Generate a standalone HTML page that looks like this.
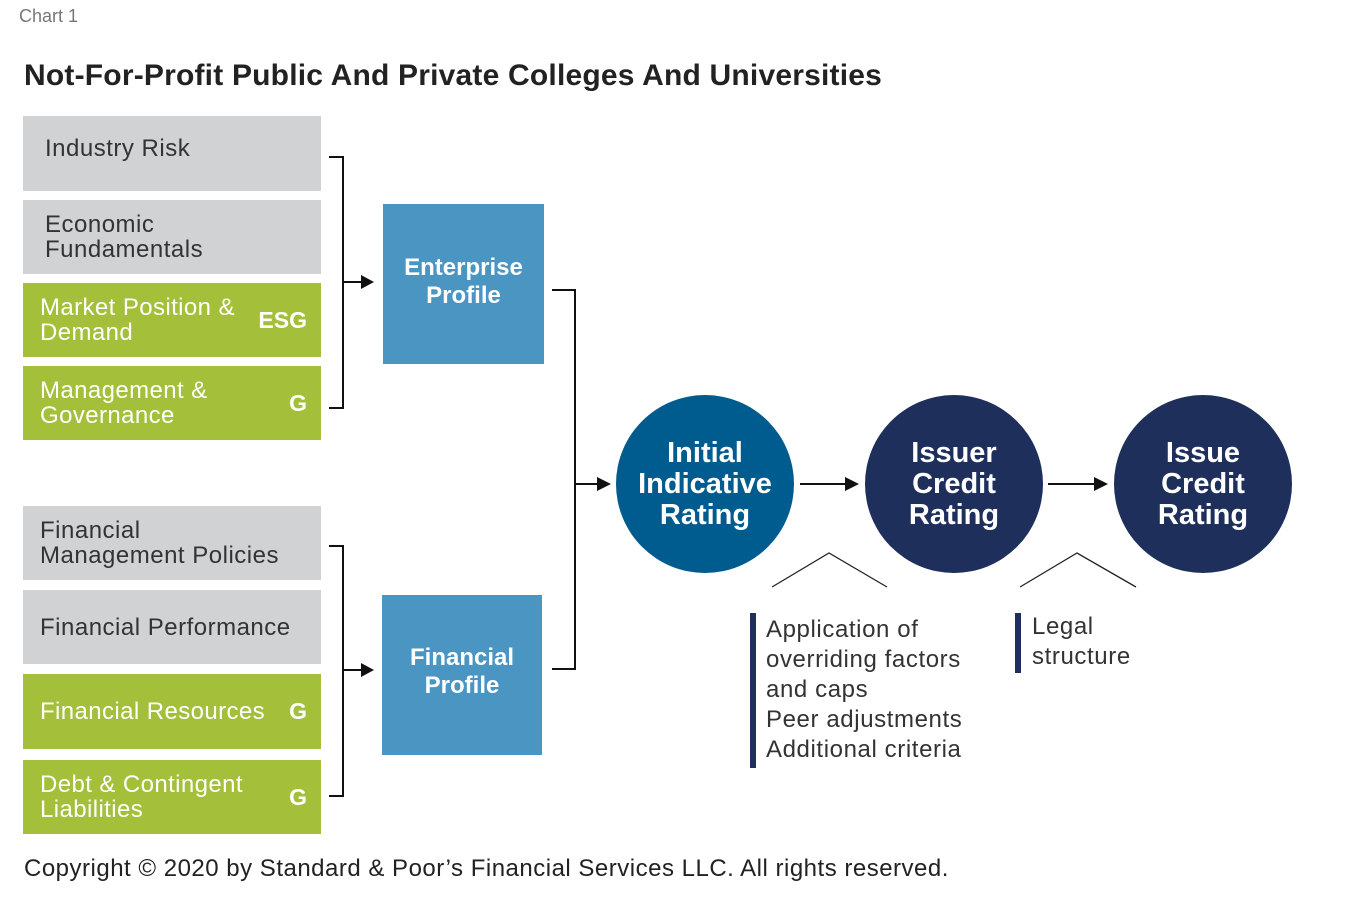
<!DOCTYPE html>
<html><head><style>
body{margin:0;width:1349px;height:897px;background:#fff;position:relative;font-family:"Liberation Sans",sans-serif;overflow:hidden}
.a{position:absolute}
.g{background:#d1d2d4;color:#333;font-size:24px;line-height:25px;letter-spacing:0.5px}
.v{background:#a4bf3a;color:#fff;font-size:24px;line-height:25px;letter-spacing:0.4px}
.bx{position:absolute;left:23px;width:298px;box-sizing:border-box;padding-left:17px;display:flex;align-items:center}
.tag{position:absolute;right:14px;font-weight:bold;font-size:23px;letter-spacing:0}
.blue{background:#4b95c2;color:#fff;font-weight:bold;font-size:24px;line-height:28px;display:flex;align-items:center;justify-content:center;text-align:center;box-sizing:border-box}
.c{border-radius:50%;color:#fff;font-weight:bold;font-size:29px;line-height:31px;display:flex;align-items:center;justify-content:center;text-align:center}
.t{font-size:24px;line-height:30px;color:#333;letter-spacing:0.6px}
</style></head><body>
<div class="a" style="left:19px;top:6px;font-size:18px;color:#777">Chart 1</div>
<div class="a" style="left:24px;top:59px;font-size:30px;font-weight:bold;color:#222;letter-spacing:0.2px">Not-For-Profit Public And Private Colleges And Universities</div>

<div class="bx g" style="top:116px;height:75px;align-items:flex-start;padding-top:20px;padding-left:22px">Industry Risk</div>
<div class="bx g" style="top:200px;height:74px;padding-left:22px">Economic<br>Fundamentals</div>
<div class="bx v" style="top:283px;height:74px">Market Position &amp;<br>Demand<span class="tag">ESG</span></div>
<div class="bx v" style="top:366px;height:74px">Management &amp;<br>Governance<span class="tag">G</span></div>

<div class="bx g" style="top:506px;height:74px">Financial<br>Management Policies</div>
<div class="bx g" style="top:590px;height:74px">Financial Performance</div>
<div class="bx v" style="top:674px;height:75px">Financial Resources<span class="tag">G</span></div>
<div class="bx v" style="top:760px;height:74px">Debt &amp; Contingent<br>Liabilities<span class="tag">G</span></div>

<div class="a blue" style="left:383px;top:204px;width:161px;height:160px;padding-bottom:4px">Enterprise<br>Profile</div>
<div class="a blue" style="left:382px;top:595px;width:160px;height:160px;padding-bottom:6px">Financial<br>Profile</div>

<div class="a c" style="left:616px;top:395px;width:178px;height:178px;background:#005b8e">Initial<br>Indicative<br>Rating</div>
<div class="a c" style="left:865px;top:395px;width:178px;height:178px;background:#1e2f5c">Issuer<br>Credit<br>Rating</div>
<div class="a c" style="left:1114px;top:395px;width:178px;height:178px;background:#1e2f5c">Issue<br>Credit<br>Rating</div>

<svg class="a" style="left:0;top:0" width="1349" height="897">
<g fill="none" stroke="#111" stroke-width="2">
<polyline points="329,157 343,157 343,408 329,408"/>
<line x1="343" y1="282" x2="362" y2="282"/>
<polyline points="329,546 343,546 343,796 329,796"/>
<line x1="343" y1="670" x2="362" y2="670"/>
<polyline points="552,290 575,290 575,669 552,669"/>
<line x1="575" y1="484" x2="598" y2="484"/>
<line x1="800" y1="484" x2="846" y2="484"/>
<line x1="1048" y1="484" x2="1095" y2="484"/>
</g>
<g fill="#111">
<polygon points="374,282 361,275 361,289"/>
<polygon points="374,670 361,663 361,677"/>
<polygon points="611,484 597,477 597,491"/>
<polygon points="859,484 845,477 845,491"/>
<polygon points="1108,484 1094,477 1094,491"/>
</g>
<g fill="none" stroke="#222" stroke-width="1.3">
<polyline points="772,587 829,553 887,587"/>
<polyline points="1020,587 1077,553 1136,587"/>
</g>
<rect x="750" y="613" width="6" height="155" fill="#1e2f5c"/>
<rect x="1015" y="613" width="6" height="60" fill="#1e2f5c"/>
</svg>

<div class="a t" style="left:766px;top:615px">Application of<br>overriding factors<br>and caps<br>Peer adjustments<br>Additional criteria</div>
<div class="a t" style="left:1032px;top:612px">Legal<br>structure</div>

<div class="a" style="left:24px;top:855px;font-size:24px;color:#222;letter-spacing:0.5px">Copyright © 2020 by Standard &amp; Poor’s Financial Services LLC. All rights reserved.</div>
</body></html>
